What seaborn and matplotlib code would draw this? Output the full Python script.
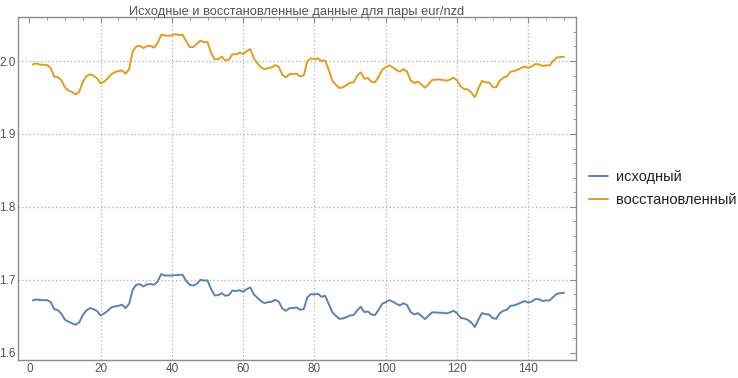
import matplotlib
matplotlib.use("Agg")
import matplotlib.pyplot as plt
import numpy as np
import pandas as pd
import seaborn as sns
from matplotlib.ticker import MultipleLocator

# values
steps = list(range(1, 151))

original = [
    1.6717, 1.6731, 1.6721, 1.6721, 1.6721, 1.6694, 1.6598, 1.6584, 1.6534, 1.6452,
    1.6425, 1.6402, 1.6384, 1.6416, 1.6516, 1.6580, 1.6612, 1.6598, 1.6571, 1.6511,
    1.6539, 1.6575, 1.6621, 1.6635, 1.6644, 1.6658, 1.6612, 1.6671, 1.6863, 1.6932,
    1.6941, 1.6909, 1.6936, 1.6941, 1.6932, 1.6977, 1.7078, 1.7059, 1.7059, 1.7059,
    1.7064, 1.7068, 1.7068, 1.6986, 1.6932, 1.6922, 1.6945, 1.7000, 1.6991, 1.6991,
    1.6872, 1.6785, 1.6790, 1.6817, 1.6781, 1.6790, 1.6854, 1.6845, 1.6858, 1.6836,
    1.6872, 1.6895, 1.6799, 1.6753, 1.6708, 1.6680, 1.6694, 1.6699, 1.6726, 1.6699,
    1.6607, 1.6575, 1.6612, 1.6612, 1.6621, 1.6589, 1.6598, 1.6758, 1.6804, 1.6799,
    1.6808, 1.6767, 1.6781, 1.6671, 1.6557, 1.6507, 1.6466, 1.6470, 1.6489, 1.6511,
    1.6516, 1.6580, 1.6630, 1.6557, 1.6566, 1.6525, 1.6516, 1.6589, 1.6671, 1.6694,
    1.6721, 1.6699, 1.6671, 1.6648, 1.6680, 1.6653, 1.6557, 1.6525, 1.6543, 1.6507,
    1.6461, 1.6507, 1.6553, 1.6553, 1.6548, 1.6548, 1.6539, 1.6553, 1.6575, 1.6543,
    1.6479, 1.6470, 1.6452, 1.6416, 1.6352, 1.6452, 1.6543, 1.6530, 1.6525, 1.6475,
    1.6466, 1.6543, 1.6575, 1.6589, 1.6644, 1.6648, 1.6667, 1.6689, 1.6708, 1.6689,
    1.6703, 1.6735, 1.6735, 1.6708, 1.6717, 1.6717, 1.6763, 1.6808, 1.6817, 1.6822,
]

restored = [
    1.9954, 1.9968, 1.9950, 1.9950, 1.9945, 1.9900, 1.9785, 1.9781, 1.9735, 1.9639,
    1.9594, 1.9575, 1.9543, 1.9580, 1.9712, 1.9795, 1.9817, 1.9799, 1.9763, 1.9694,
    1.9717, 1.9763, 1.9817, 1.9849, 1.9863, 1.9872, 1.9826, 1.9890, 2.0132, 2.0201,
    2.0210, 2.0178, 2.0205, 2.0210, 2.0183, 2.0247, 2.0361, 2.0352, 2.0347, 2.0352,
    2.0370, 2.0356, 2.0361, 2.0274, 2.0192, 2.0192, 2.0237, 2.0279, 2.0260, 2.0260,
    2.0114, 2.0023, 2.0027, 2.0059, 2.0009, 2.0018, 2.0096, 2.0091, 2.0114, 2.0096,
    2.0137, 2.0164, 2.0037, 1.9968, 1.9913, 1.9886, 1.9904, 1.9913, 1.9945, 1.9918,
    1.9813, 1.9776, 1.9822, 1.9822, 1.9826, 1.9790, 1.9804, 1.9995, 2.0037, 2.0027,
    2.0037, 2.0000, 2.0009, 1.9881, 1.9731, 1.9676, 1.9630, 1.9639, 1.9671, 1.9703,
    1.9708, 1.9799, 1.9845, 1.9758, 1.9767, 1.9717, 1.9708, 1.9785, 1.9881, 1.9913,
    1.9941, 1.9913, 1.9877, 1.9854, 1.9890, 1.9854, 1.9735, 1.9699, 1.9717, 1.9680,
    1.9635, 1.9680, 1.9740, 1.9744, 1.9749, 1.9740, 1.9731, 1.9744, 1.9772, 1.9735,
    1.9653, 1.9616, 1.9612, 1.9571, 1.9502, 1.9621, 1.9726, 1.9708, 1.9708, 1.9644,
    1.9639, 1.9731, 1.9772, 1.9790, 1.9854, 1.9863, 1.9881, 1.9904, 1.9927, 1.9904,
    1.9927, 1.9959, 1.9954, 1.9932, 1.9941, 1.9941, 2.0005, 2.0046, 2.0055, 2.0059,
]

series_names = ["исходный", "восстановленный"]
colors = ["#5e81b5", "#e19c24"]

sns.set_style("white")
plt.rcParams["font.family"] = ["Liberation Sans", "DejaVu Sans"]

df = pd.DataFrame({
    "t": steps * 2,
    "value": original + restored,
    "series": [series_names[0]] * len(steps) + [series_names[1]] * len(steps),
})

fig = plt.figure(figsize=(7.38, 3.78), dpi=100)
ax = fig.add_axes([0.0248, 0.0476, 0.7552, 0.9066])

sns.lineplot(data=df, x="t", y="value", hue="series", palette=colors,
             linewidth=1.4, ax=ax, legend=True)

ax.set_xlim(-3.1, 153.3)
ax.set_ylim(1.59, 2.06)
ax.set_xlabel("")
ax.set_ylabel("")

ax.xaxis.set_major_locator(MultipleLocator(20))
ax.xaxis.set_minor_locator(MultipleLocator(5))
ax.yaxis.set_major_locator(MultipleLocator(0.1))
ax.yaxis.set_minor_locator(MultipleLocator(0.02))
ax.yaxis.set_major_formatter(matplotlib.ticker.FormatStrFormatter("%.1f"))

frame_col = "#8c8c8c"
for sp in ax.spines.values():
    sp.set_color(frame_col)
    sp.set_linewidth(1.0)
ax.tick_params(which="both", direction="in", top=True, right=True,
               color=frame_col, labelcolor="#555555", labelsize=8.5, pad=2)
ax.tick_params(which="major", length=4)
ax.tick_params(which="minor", length=2.5)

for xv in range(20, 141, 20):
    ax.axvline(xv, color="#b0b0b0", linestyle=(0, (1, 2)), linewidth=0.9, zorder=0)
for yv in [1.7, 1.8, 1.9, 2.0]:
    ax.axhline(yv, color="#b0b0b0", linestyle=(0, (1, 2)), linewidth=0.9, zorder=0)

ax.set_title("Исходные и восстановленные данные для пары eur/nzd",
             fontsize=9.3, color="#555555", pad=2)

leg = ax.legend(loc="center left", bbox_to_anchor=(1.0, 0.5), frameon=False,
                fontsize=10.5, handlelength=1.3, handletextpad=0.55, labelspacing=0.6)
for line in leg.get_lines():
    line.set_linewidth(1.4)
for txt in leg.get_texts():
    txt.set_color("#222222")

fig.savefig("out.png", dpi=100)
